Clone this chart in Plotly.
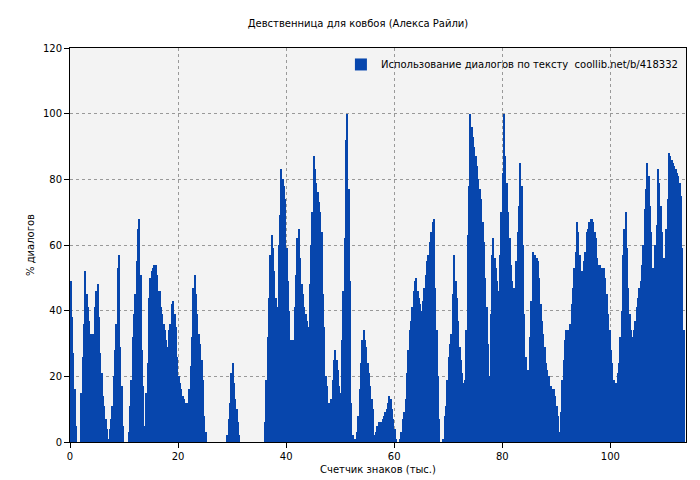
import numpy as np
import plotly.graph_objects as go

# доля диалогов, шаг 0.25 тыс. знаков, начиная с 0
x_step = 0.25
dialog_pct = [
    49, 38, 27, 16, 5, 0, 0, 0,
    15, 26, 36, 52, 45, 41, 37, 33, 29, 33, 41, 46, 48, 38, 27, 21, 14, 11, 7, 4,
    1, 4, 7, 11, 20, 28, 36, 53, 57, 29, 17, 5, 0, 0, 0,
    3, 11, 19, 32, 39, 45, 55, 65, 68, 51, 28, 17, 5, 15, 24, 44, 50, 52, 53, 54,
    54, 51, 46, 46, 41, 39, 36, 34, 31, 29, 34, 36, 42, 43, 39, 35, 26, 20, 18, 16,
    14, 13, 12, 12, 12, 16, 23, 32, 47, 51, 45, 39, 33, 30, 25, 19, 8, 3,
    0, 0, 0, 0, 0, 0, 0, 0, 0, 0, 0, 0, 0, 0, 0,
    2, 7, 12, 21, 24, 18, 13, 10, 6, 2,
    0, 0, 0, 0, 0, 0, 0, 0, 0, 0, 0, 0, 0, 0, 0, 0, 0, 0,
    6, 19, 32, 44, 57, 63, 59, 52, 44, 41,
    60, 69, 83, 80, 78, 74, 59, 49, 40, 31, 21, 31, 41, 51, 62, 65, 56, 48, 45, 41,
    39, 37, 35, 48, 60, 70, 87, 83, 79, 76, 73, 70, 64, 45, 35, 20, 17, 12, 10, 13,
    19, 25, 28, 25, 22, 17, 15, 31, 46, 62, 92, 100, 77, 49, 12, 2, 1, 1,
    3, 8, 16, 24, 31, 34, 31, 29, 24, 21, 17, 13, 10, 2, 3, 5, 6, 6, 6, 7,
    8, 9, 10, 12, 14, 13, 10, 7, 4, 1, 0, 0,
    1, 3, 7, 9, 13, 21, 28, 34, 37, 41, 46, 49, 50, 46, 44, 42, 40, 43, 47, 51,
    55, 57, 61, 64, 67, 68, 47, 34, 20, 7, 0, 0,
    1, 8, 11, 19,
    26, 30, 33, 45, 57, 49, 44, 37, 29, 25, 21, 18, 19, 34, 63,
    78, 100, 96, 93, 90, 87, 84, 80, 77, 74, 67, 61, 50, 41, 30, 20, 39, 57, 62, 56,
    53, 49, 46, 57, 70, 82, 100, 87, 79, 70, 62, 54, 49, 47, 45, 55, 64, 72, 85, 78,
    60, 39, 26, 13, 22, 32, 43, 58, 57, 57, 56, 55, 50, 42, 37, 33, 29, 24, 22, 20,
    17, 17, 16, 16, 14, 11, 8, 3, 9, 19, 25, 31, 34, 34, 33, 36, 42, 47, 53, 58,
    67, 64, 57, 49, 52, 55, 58, 64, 65, 67, 68, 68, 67, 64, 62, 56, 54, 54, 53, 53,
    53, 50, 45, 39, 34, 28, 24, 19, 16, 18, 21, 24, 32, 40, 57, 65, 70, 59, 47, 39,
    34, 32, 34, 37, 41, 44, 47, 49, 54, 60, 71, 77, 85, 81, 72, 64, 53, 47, 60, 66,
    83, 79, 72, 64, 56, 48, 65, 74, 88, 87, 86, 85, 84, 83, 82, 81, 79, 75, 59, 34,
]
x = np.arange(len(dialog_pct)) * x_step + x_step / 2

title = "Девственница для ковбоя (Алекса Райли)"
legend_name = "Использование диалогов по тексту  coollib.net/b/418332"

fig = go.Figure()
fig.add_trace(go.Bar(x=x, y=dialog_pct, width=x_step, name=legend_name,
                     marker=dict(color="#0746ad", line=dict(width=0))))

axis = dict(showline=True, linecolor="black", linewidth=1, mirror=True,
            ticks="outside", ticklen=5, tickcolor="black",
            showgrid=True, gridcolor="#999999", griddash="dot", gridwidth=1,
            zeroline=False, automargin=False, tickfont=dict(size=10))
fig.update_xaxes(range=[0, 114], tick0=0, dtick=20,
                 title=dict(text="Счетчик знаков (тыс.)", standoff=4, font=dict(size=10)), **axis)
fig.update_yaxes(range=[0, 120], tick0=0, dtick=20,
                 title=dict(text="% диалогов", standoff=6, font=dict(size=10)), **axis)
fig.update_layout(
    width=700, height=480,
    title=dict(text=title, x=0.5, y=0.975, xanchor="center", font=dict(size=10)),
    font=dict(family="DejaVu Sans", size=10, color="black"),
    paper_bgcolor="white", plot_bgcolor="#f3f3f3",
    margin=dict(l=62, r=22, t=40, b=46),
    bargap=0, showlegend=True,
    legend=dict(x=0.995, y=0.995, xanchor="right", yanchor="top",
                bgcolor="rgba(0,0,0,0)", itemwidth=30, font=dict(size=10)),
)
fig.write_html("out.html")
